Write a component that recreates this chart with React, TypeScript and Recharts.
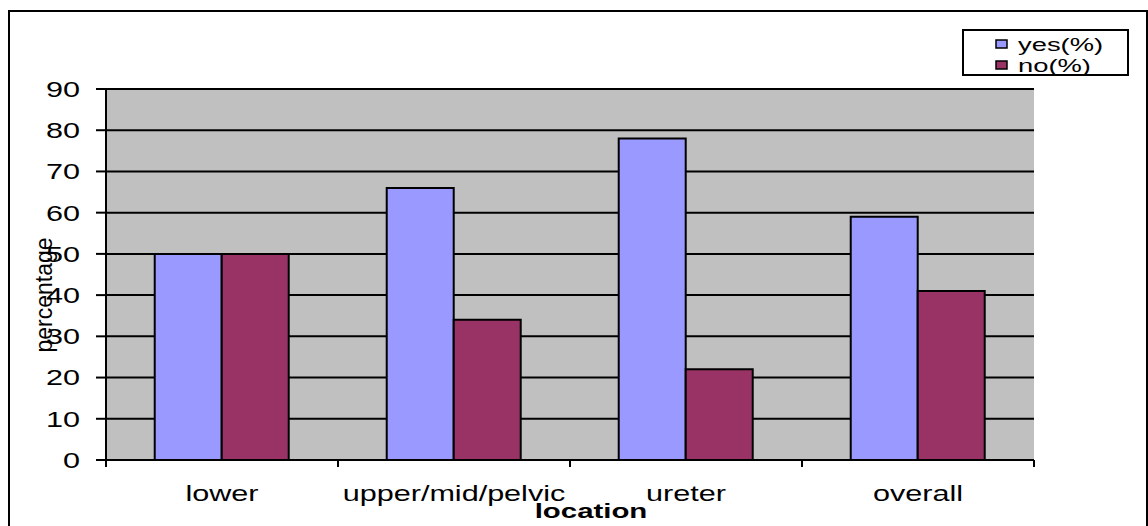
import { Bar, BarChart, CartesianGrid, XAxis, YAxis } from "recharts";

const categories = ["lower", "upper/mid/pelvic", "ureter", "overall"];
const yesValues = [50, 66, 78, 59];
const noValues = [50, 34, 22, 41];
const yTicks = [0, 10, 20, 30, 40, 50, 60, 70, 80, 90];
const seriesNames = ["yes(%)", "no(%)"];

const data = categories.map((name, i) => ({
  name,
  yes: yesValues[i],
  no: noValues[i],
}));

const FONT = '"Liberation Sans", Arial, sans-serif';
const STRETCH = 1.39;

function XTick(props: any) {
  const { x, y, payload, index } = props;
  const half = payload?.offset ?? 0;
  return (
    <g>
      <line x1={x - half} y1={y} x2={x - half} y2={y + 7} stroke="#000" strokeWidth={2} />
      {index === categories.length - 1 && (
        <line x1={x + half} y1={y} x2={x + half} y2={y + 7} stroke="#000" strokeWidth={2} />
      )}
      <g transform={`translate(${x},${y + 41})`}>
        <text textAnchor="middle" transform={`scale(${STRETCH},1)`} fontSize={22} fontFamily={FONT} fill="#000">
          {payload.value}
        </text>
      </g>
    </g>
  );
}

function YTick(props: any) {
  const { x, y, payload } = props;
  return (
    <g transform={`translate(${x},${y})`}>
      <text
        textAnchor="end"
        dy="0.36em"
        transform={`scale(${STRETCH},1)`}
        fontSize={22}
        fontFamily={FONT}
        fill="#000"
      >
        {payload.value}
      </text>
    </g>
  );
}

export default function App() {
  return (
    <div style={{ position: "relative", width: 1148, height: 526, overflow: "hidden", background: "#fff" }}>
      <style>{`body{margin:0}`}</style>
      <div
        style={{
          position: "absolute",
          left: 8,
          top: 10,
          width: 1136,
          height: 540,
          border: "2px solid #000",
        }}
      />
      <BarChart
        width={1148}
        height={526}
        data={data}
        margin={{ top: 89, right: 114, left: 10, bottom: 16 }}
        barCategoryGap="21%"
        barGap={0}
        style={{ position: "absolute", left: 0, top: 0 }}
      >
        <CartesianGrid vertical={false} stroke="#000" strokeWidth={2} fill="#C0C0C0" fillOpacity={1} />
        <XAxis
          dataKey="name"
          interval={0}
          tickLine={false}
          tickSize={0}
          tickMargin={0}
          height={50}
          axisLine={{ stroke: "#000", strokeWidth: 2 }}
          tick={<XTick />}
        />
        <YAxis
          width={96}
          domain={[0, 90]}
          ticks={yTicks}
          interval={0}
          tickSize={10}
          tickMargin={16}
          tickLine={{ stroke: "#000", strokeWidth: 2 }}
          axisLine={{ stroke: "#000", strokeWidth: 2 }}
          tick={<YTick />}
        />
        <Bar dataKey="yes" name={seriesNames[0]} fill="#9999FF" stroke="#000" strokeWidth={2} isAnimationActive={false} />
        <Bar dataKey="no" name={seriesNames[1]} fill="#993366" stroke="#000" strokeWidth={2} isAnimationActive={false} />
      </BarChart>
      <svg
        width={1148}
        height={526}
        style={{ position: "absolute", left: 0, top: 0, pointerEvents: "none" }}
      >
        <text
          transform="translate(52,295) rotate(-90)"
          textAnchor="middle"
          fontSize={23}
          fontFamily={FONT}
          fill="#000"
        >
          percentage
        </text>
        <g transform="translate(591,518)">
          <text textAnchor="middle" transform="scale(1.4,1)" fontSize={21} fontWeight="bold" fontFamily={FONT} fill="#000">
            location
          </text>
        </g>
        <rect x={963} y={30} width={165} height={45} fill="#fff" stroke="#000" strokeWidth={2} />
        <rect x={996} y={40} width={11} height={8} fill="#9999FF" stroke="#000" strokeWidth={1.5} />
        <rect x={996} y={61} width={11} height={8} fill="#993366" stroke="#000" strokeWidth={1.5} />
        <g transform="translate(1018,51)">
          <text transform="scale(1.44,1)" fontSize={19} fontFamily={FONT} fill="#000">
            {seriesNames[0]}
          </text>
        </g>
        <g transform="translate(1018,72)">
          <text transform="scale(1.44,1)" fontSize={19} fontFamily={FONT} fill="#000">
            {seriesNames[1]}
          </text>
        </g>
      </svg>
    </div>
  );
}
